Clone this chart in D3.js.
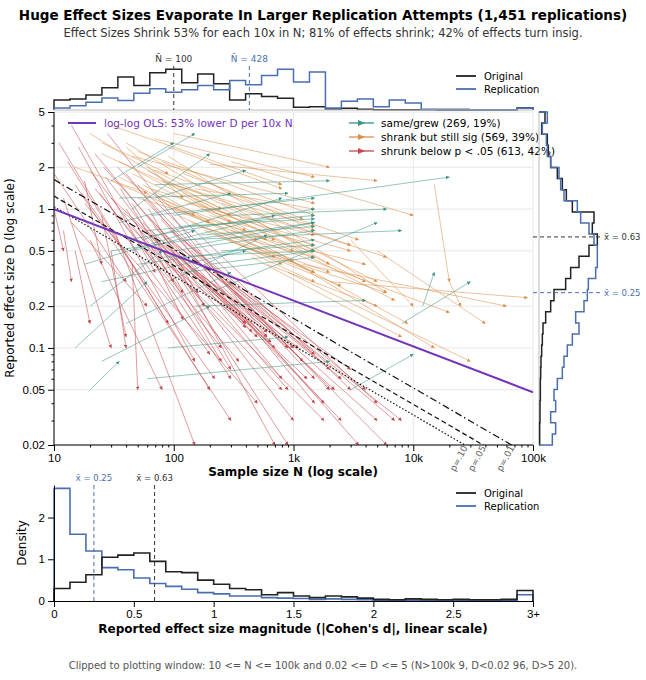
<!DOCTYPE html>
<html><head><meta charset="utf-8">
<script src="https://cdn.jsdelivr.net/npm/d3@7"></script>
<style>body{margin:0;background:#fff;font-family:"DejaVu Sans",sans-serif}</style>
</head><body><svg id="c" width="646" height="680"></svg>
<script>
// ---- data ----
const grew = [[30,0.5,1500,0.8],[40,0.6,1500,1.0],[50,0.4,1500,0.6],[60,0.7,1500,0.9],[80,0.45,1500,0.5],[100,0.5,1500,0.7],[120,0.35,1500,0.45],[150,0.55,1500,0.8],[200,0.4,1500,0.5],[25,0.3,400,0.5],[35,0.8,300,1.3],[45,1.0,200,2.5],[55,0.6,800,1.2],[70,1.2,400,1.9],[90,0.3,600,0.65],[20,0.2,80,0.5],[15,0.1,60,0.3],[25,0.08,200,0.2],[40,0.15,300,0.35],[60,0.06,2000,0.08],[90,0.1,900,0.12],[150,0.2,4000,0.22],[300,0.9,6000,1.0],[100,0.9,20000,1.7],[70,1.5,2000,1.6],[30,1.6,100,3],[50,2.0,150,3.5],[3000,0.05,10000,0.09],[12000,0.2,15000,0.35],[8000,0.15,30000,0.3],[200,0.25,5000,0.8],[20,0.05,35,0.08],[120,0.6,8000,0.7],[250,0.5,1500,0.55],[18,0.4,150,0.7],[65,0.9,1500,1.2],[110,0.75,1500,0.85],[45,0.5,700,0.9],[35,1.2,900,1.3],[170,0.65,1500,0.75]];
const shrankSig = [[20,3.5,300,0.8],[25,2.5,1500,0.5],[30,4,800,1.5],[35,2.2,600,0.6],[40,3,2000,0.4],[45,1.8,400,0.7],[50,2.6,1500,0.9],[55,1.5,700,0.45],[60,2.0,5000,0.3],[65,1.4,300,0.9],[70,3.2,1500,1.7],[75,1.2,1000,0.5],[80,1.6,3000,0.55],[85,1.1,1500,0.35],[90,2.4,6000,0.25],[95,1.0,500,0.6],[100,1.5,1500,0.75],[110,0.9,800,0.4],[120,1.3,4000,0.3],[130,1.1,1500,0.65],[140,0.8,2000,0.35],[150,1.2,7000,0.22],[160,0.75,1500,0.45],[170,1.0,3000,0.5],[180,0.7,1000,0.42],[200,0.9,1500,0.55],[220,0.65,2500,0.28],[250,0.8,9000,0.15],[280,0.6,1500,0.35],[300,0.7,4000,0.4],[350,0.55,6000,0.25],[400,0.5,1500,0.3],[450,0.45,8000,0.12],[500,0.6,20000,0.18],[600,0.4,5000,0.2],[700,0.5,15000,0.1],[900,0.35,30000,0.08],[1200,0.4,60000,0.2],[15000,1.5,20000,0.3],[2000,0.3,90000,0.23],[5000,0.5,40000,0.15],[3000,0.6,10000,0.2],[30,1.6,200,0.8],[40,2.8,120,1.2],[60,1.9,250,1.0],[25,3.0,90,1.8],[35,1.7,150,0.9],[50,1.2,700,0.6],[80,2.2,1500,0.7],[120,1.8,1200,0.85],[15,2.0,60,1.3],[200,2.1,5000,1.6],[100,3.5,2000,2.0],[300,2.2,10000,0.9],[20000,0.3,25000,0.2],[45,2.4,1500,1.1],[70,1.9,3500,0.6],[150,1.4,1500,1.0],[90,2.8,800,1.4],[250,1.1,6000,0.45]];
const shrankNS = [[10,1.8,40,0.3],[11,3,90,0.15],[12,1.2,30,0.1],[13,2.2,200,0.05],[14,0.8,60,0.2],[15,1.5,300,0.03],[16,2.8,150,0.08],[18,1.1,500,0.04],[20,1.9,120,0.25],[20,0.6,80,0.05],[22,2.5,800,0.06],[24,1.3,250,0.1],[25,0.9,40,0.12],[27,1.7,1000,0.03],[28,3.5,600,0.12],[30,1.2,400,0.15],[32,0.7,150,0.02],[34,2.0,2000,0.05],[36,1.4,300,0.07],[38,0.95,700,0.1],[40,1.8,1500,0.04],[42,0.6,200,0.09],[45,1.1,900,0.02],[48,0.8,120,0.16],[50,1.5,3000,0.05],[52,0.7,500,0.12],[55,1.2,1200,0.08],[58,0.5,300,0.06],[60,0.9,2500,0.03],[62,1.0,180,0.2],[65,0.55,800,0.05],[68,0.75,400,0.14],[70,1.3,5000,0.04],[72,0.6,1000,0.1],[75,0.45,250,0.08],[78,0.85,3500,0.02],[80,0.5,600,0.13],[85,0.65,2000,0.07],[90,0.4,400,0.15],[95,0.7,7000,0.03],[100,0.45,900,0.05],[105,0.55,1500,0.09],[110,0.38,700,0.02],[120,0.6,4000,0.05],[130,0.4,1100,0.1],[140,0.5,2500,0.06],[150,0.35,600,0.12],[160,0.42,5000,0.03],[170,0.33,1800,0.04],[180,0.4,3000,0.07],[200,0.3,900,0.1],[220,0.35,6000,0.02],[250,0.28,2200,0.05],[280,0.3,8000,0.03],[320,0.25,1500,0.06],[12,0.7,14,0.3],[15,0.5,20,0.15],[18,1.6,25,0.4],[10,1.0,12,0.5],[30,0.5,40,0.1],[45,0.4,50,0.05],[14,4,70,0.35],[22,1.4,350,0.08],[35,0.9,1800,0.03],[55,0.8,650,0.11],[85,0.55,1300,0.06],[26,2.0,450,0.13],[17,1.3,220,0.06],[40,1.0,100,0.3],[65,0.7,160,0.25]];
const topOrig = [30,33,45,66,98,73,111,121,81,107,78,30,48,40,35,8,10,3,5,2,1,1,1,1,0,0,0,0,0,6];
const topRepl = [6,13,23,36,28,50,63,53,60,73,60,88,75,103,121,83,113,6,26,33,10,30,21,2,2,2,1,1,1,5];
const rightOrig = [18,8,25,28,35,55,70,82,100,165,160,175,150,120,95,80,45,35,20,12,10,8,6,5,4,4,3,3,2,2];
const rightRepl = [25,10,22,25,35,60,65,75,115,125,150,165,175,175,170,148,145,135,110,120,100,85,75,70,55,45,50,35,50,40];
const botOrig = [0.3,0.45,0.63,1.05,1.1,1.15,0.95,0.7,0.68,0.5,0.4,0.3,0.27,0.15,0.2,0.12,0.08,0.12,0.1,0.07,0.04,0.03,0.05,0.04,0.03,0.04,0.03,0.03,0.04,0.25];
const botRepl = [2.7,1.6,1.2,0.8,0.75,0.55,0.42,0.35,0.28,0.2,0.17,0.12,0.12,0.08,0.07,0.06,0.04,0.05,0.04,0.03,0.02,0.02,0.02,0.02,0.02,0.02,0.02,0.02,0.02,0.15];
const meanOrigD = 0.63, meanReplD = 0.25, meanOrigN = 100, meanReplN = 428;
const xTicks = [10,100,1000,10000,100000], xTickLabels = ["10","100","1k","10k","100k"];
const yTicks = [0.02,0.05,0.1,0.2,0.5,1,2,5], yTickLabels = ["0.02","0.05","0.1","0.2","0.5","1","2","5"];
const pLines = [{p:".10",z:1.645,dash:"1.5,2"},{p:".05",z:1.96,dash:"5,3"},{p:".01",z:2.576,dash:"7,3,1.5,3"}];
const olsStart = [10,1.0], olsEnd = [100000,0.048];

const BLACK="#222", BLUE="#4a6fb0", TEAL="#3a9584", ORANGE="#dc8f4a", RED="#c4474c", PURPLE="#7434b8";
const svg = d3.select("#c");
const L=54,R=533,T=112,B=445;
const x = d3.scaleLog().domain([10,100000]).range([L,R]);
const y = d3.scaleLog().domain([0.02,5]).range([B,T]);

// titles
svg.append("text").attr("x",323).attr("y",20).attr("text-anchor","middle").attr("font-weight","bold").attr("font-size",13.5).text("Huge Effect Sizes Evaporate In Larger Replication Attempts (1,451 replications)");
svg.append("text").attr("x",323).attr("y",37).attr("text-anchor","middle").attr("font-size",11.5).attr("fill","#333").text("Effect Sizes Shrink 53% for each 10x in N; 81% of effects shrink; 42% of effects turn insig.");
svg.append("text").attr("x",323).attr("y",669).attr("text-anchor","middle").attr("font-size",10).attr("fill","#555").text("Clipped to plotting window: 10 <= N <= 100k and 0.02 <= D <= 5 (N>100k 9, D<0.02 96, D>5 20).");

// grid
const g = svg.append("g");
yTicks.forEach(v=>g.append("line").attr("x1",L).attr("x2",R).attr("y1",y(v)).attr("y2",y(v)).attr("stroke","#e8e8e8"));
xTicks.forEach(v=>g.append("line").attr("y1",T).attr("y2",B).attr("x1",x(v)).attr("x2",x(v)).attr("stroke","#e8e8e8"));

svg.append("clipPath").attr("id","clip").append("rect").attr("x",L).attr("y",T).attr("width",R-L).attr("height",B-T);
const defs = svg.append("defs");
[["t",TEAL],["o",ORANGE],["r",RED]].forEach(([id,c])=>{
  defs.append("marker").attr("id","m"+id).attr("viewBox","0 0 10 10").attr("refX",9).attr("refY",5).attr("markerWidth",4).attr("markerHeight",4).attr("orient","auto")
   .append("path").attr("d","M0,0L10,5L0,10z").attr("fill",c);
});
const ag = svg.append("g").attr("clip-path","url(#clip)");
function arrows(data,c,id){
  ag.append("g").selectAll("line").data(data).join("line")
   .attr("x1",d=>x(d[0])).attr("y1",d=>y(d[1])).attr("x2",d=>x(d[2])).attr("y2",d=>y(d[3]))
   .attr("stroke",c).attr("stroke-width",0.9).attr("stroke-opacity",0.6).attr("marker-end","url(#m"+id+")");
}
arrows(shrankNS,RED,"r"); arrows(shrankSig,ORANGE,"o"); arrows(grew,TEAL,"t");
// p lines
const lg = svg.append("g").attr("clip-path","url(#clip)");
pLines.forEach(p=>{
  const f=n=>2*p.z/Math.sqrt(n);
  lg.append("line").attr("x1",x(10)).attr("y1",y(f(10))).attr("x2",x(100000)).attr("y2",y(f(100000))).attr("stroke","#111").attr("stroke-width",1.2).attr("stroke-dasharray",p.dash);
  const nx = Math.pow(2*p.z/0.02,2);
  svg.append("text").attr("transform",`translate(${x(nx)-10},${B+27}) rotate(-62)`).attr("font-size",9).attr("fill","#666").text("p="+p.p);
});
lg.append("line").attr("x1",x(olsStart[0])).attr("y1",y(olsStart[1])).attr("x2",x(olsEnd[0])).attr("y2",y(olsEnd[1])).attr("stroke",PURPLE).attr("stroke-width",2);

// axes
svg.append("g").attr("transform",`translate(0,${B})`).call(d3.axisBottom(x).tickValues(xTicks).tickFormat((d,i)=>xTickLabels[i]).tickSizeOuter(0)).attr("font-size",11.5).call(a=>a.select(".domain").remove());
const minorX=[];xTicks.slice(0,4).forEach(v=>{for(let k=2;k<10;k++)minorX.push(v*k)});
svg.append("g").attr("transform",`translate(0,${B})`).call(d3.axisBottom(x).tickValues(minorX).tickFormat("").tickSize(2.5)).call(a=>a.select(".domain").remove());
svg.append("g").attr("transform",`translate(${L},0)`).call(d3.axisLeft(y).tickValues(yTicks).tickFormat((d,i)=>yTickLabels[i])).attr("font-size",11.5).call(a=>a.select(".domain").remove());
const minorY=[0.03,0.04,0.06,0.07,0.08,0.09,0.3,0.4,0.6,0.7,0.8,0.9,3,4];
svg.append("g").attr("transform",`translate(${L},0)`).call(d3.axisLeft(y).tickValues(minorY).tickFormat("").tickSize(2.5)).call(a=>a.select(".domain").remove());
svg.append("line").attr("x1",L).attr("x2",L).attr("y1",T).attr("y2",B).attr("stroke","#000");
svg.append("line").attr("x1",L).attr("x2",R).attr("y1",B).attr("y2",B).attr("stroke","#000");
svg.append("text").attr("x",293).attr("y",476).attr("text-anchor","middle").attr("font-weight","bold").attr("font-size",12).text("Sample size N (log scale)");
svg.append("text").attr("transform","translate(14,278) rotate(-90)").attr("text-anchor","middle").attr("font-size",12).text("Reported effect size D (log scale)");

// main legends
svg.append("line").attr("x1",68).attr("x2",96).attr("y1",123).attr("y2",123).attr("stroke",PURPLE).attr("stroke-width",2);
svg.append("text").attr("x",104).attr("y",127).attr("font-size",10.5).attr("fill",PURPLE).text("log-log OLS: 53% lower D per 10x N");
[[TEAL,"same/grew (269, 19%)"],[ORANGE,"shrank but still sig (569, 39%)"],[RED,"shrunk below p < .05 (613, 42%)"]].forEach(([c,t],i)=>{
  const yy=123+i*14;
  svg.append("line").attr("x1",349).attr("x2",374).attr("y1",yy).attr("y2",yy).attr("stroke",c).attr("stroke-width",1.3);
  svg.append("path").attr("d",`M${358},${yy-3}L${365},${yy}L${358},${yy+3}z`).attr("fill",c);
  svg.append("text").attr("x",381).attr("y",yy+4).attr("font-size",10.5).text(t);
});

// top histogram
const hx = d3.scaleLinear().domain([0,30]).range([L,R]);
const hy = d3.scaleLinear().domain([0,125]).range([110,68]);
function stepTop(arr,c){
  const pts=[[0,0]];arr.forEach((v,i)=>{pts.push([i,v]);pts.push([i+1,v]);});pts.push([30,0]);
  svg.append("path").attr("d",d3.line().x(d=>hx(d[0])).y(d=>hy(d[1]))(pts)).attr("fill","none").attr("stroke",c).attr("stroke-width",1.5);
}
stepTop(topOrig,BLACK); stepTop(topRepl,BLUE);
svg.append("line").attr("x1",L).attr("x2",R).attr("y1",110).attr("y2",110).attr("stroke","#bbb");
[[meanOrigN,"#333","N̄ = 100"],[meanReplN,BLUE,"N̄ = 428"]].forEach(([n,c,t])=>{
  svg.append("line").attr("x1",x(n)).attr("x2",x(n)).attr("y1",66).attr("y2",110).attr("stroke",c).attr("stroke-dasharray","4,3");
  svg.append("text").attr("x",x(n)).attr("y",62).attr("text-anchor","middle").attr("font-size",9).attr("fill",c).text(t);
});
function legend2(x0,y0){
  [[BLACK,"Original"],[BLUE,"Replication"]].forEach(([c,t],i)=>{
    svg.append("line").attr("x1",x0).attr("x2",x0+20).attr("y1",y0+i*13).attr("y2",y0+i*13).attr("stroke",c).attr("stroke-width",1.8);
    svg.append("text").attr("x",x0+28).attr("y",y0+i*13+4).attr("font-size",10).text(t);
  });
}
legend2(456,76);

// right histogram
const ry = d3.scaleLinear().domain([0,30]).range([T,B]);
const rx = d3.scaleLinear().domain([0,180]).range([539,599]);
function stepRight(arr,c){
  const pts=[[0,0]];arr.forEach((v,i)=>{pts.push([i,v]);pts.push([i+1,v]);});pts.push([30,0]);
  svg.append("path").attr("d",d3.line().x(d=>rx(d[1])).y(d=>ry(d[0]))(pts)).attr("fill","none").attr("stroke",c).attr("stroke-width",1.5);
}
svg.append("line").attr("x1",539).attr("x2",539).attr("y1",T).attr("y2",B).attr("stroke","#bbb");
stepRight(rightOrig,BLACK); stepRight(rightRepl,BLUE);
[[meanOrigD,"#333","x̄ = 0.63"],[meanReplD,BLUE,"x̄ = 0.25"]].forEach(([d,c,t])=>{
  svg.append("line").attr("x1",R).attr("x2",600).attr("y1",y(d)).attr("y2",y(d)).attr("stroke",c).attr("stroke-dasharray","4,3");
  svg.append("text").attr("x",604).attr("y",y(d)+3).attr("font-size",8.5).attr("fill",c).text(t);
});

// bottom panel
const bx = d3.scaleLinear().domain([0,3]).range([L,R]);
const by = d3.scaleLinear().domain([0,2.78]).range([601,485]);
function stepBot(arr,c){
  const pts=[[0,0]];arr.forEach((v,i)=>{pts.push([i/10,v]);pts.push([(i+1)/10,v]);});pts.push([3,0]);
  svg.append("path").attr("d",d3.line().x(d=>bx(d[0])).y(d=>by(d[1]))(pts)).attr("fill","none").attr("stroke",c).attr("stroke-width",1.6);
}
stepBot(botRepl,BLUE); stepBot(botOrig,BLACK);
[[meanReplD,BLUE,"x̄ = 0.25"],[meanOrigD,"#333","x̄ = 0.63"]].forEach(([d,c,t])=>{
  svg.append("line").attr("x1",bx(d)).attr("x2",bx(d)).attr("y1",485).attr("y2",601).attr("stroke",c).attr("stroke-dasharray","4,3");
  svg.append("text").attr("x",bx(d)).attr("y",481).attr("text-anchor","middle").attr("font-size",8.5).attr("fill",c).text(t);
});
svg.append("g").attr("transform","translate(0,601)").call(d3.axisBottom(bx).tickValues([0,0.5,1,1.5,2,2.5,3]).tickFormat(d=>d===3?"3+":d3.format("")(d)).tickSizeOuter(0)).attr("font-size",11.5);
svg.append("g").attr("transform",`translate(${L},0)`).call(d3.axisLeft(by).tickValues([0,1,2]).tickFormat(d3.format("d")).tickSizeOuter(0)).attr("font-size",11.5);
svg.append("text").attr("x",293).attr("y",633).attr("text-anchor","middle").attr("font-weight","bold").attr("font-size",12).text("Reported effect size magnitude (|Cohen's d|, linear scale)");
svg.append("text").attr("transform","translate(26,543) rotate(-90)").attr("text-anchor","middle").attr("font-size",12).text("Density");
legend2(456,493);
</script></body></html>
